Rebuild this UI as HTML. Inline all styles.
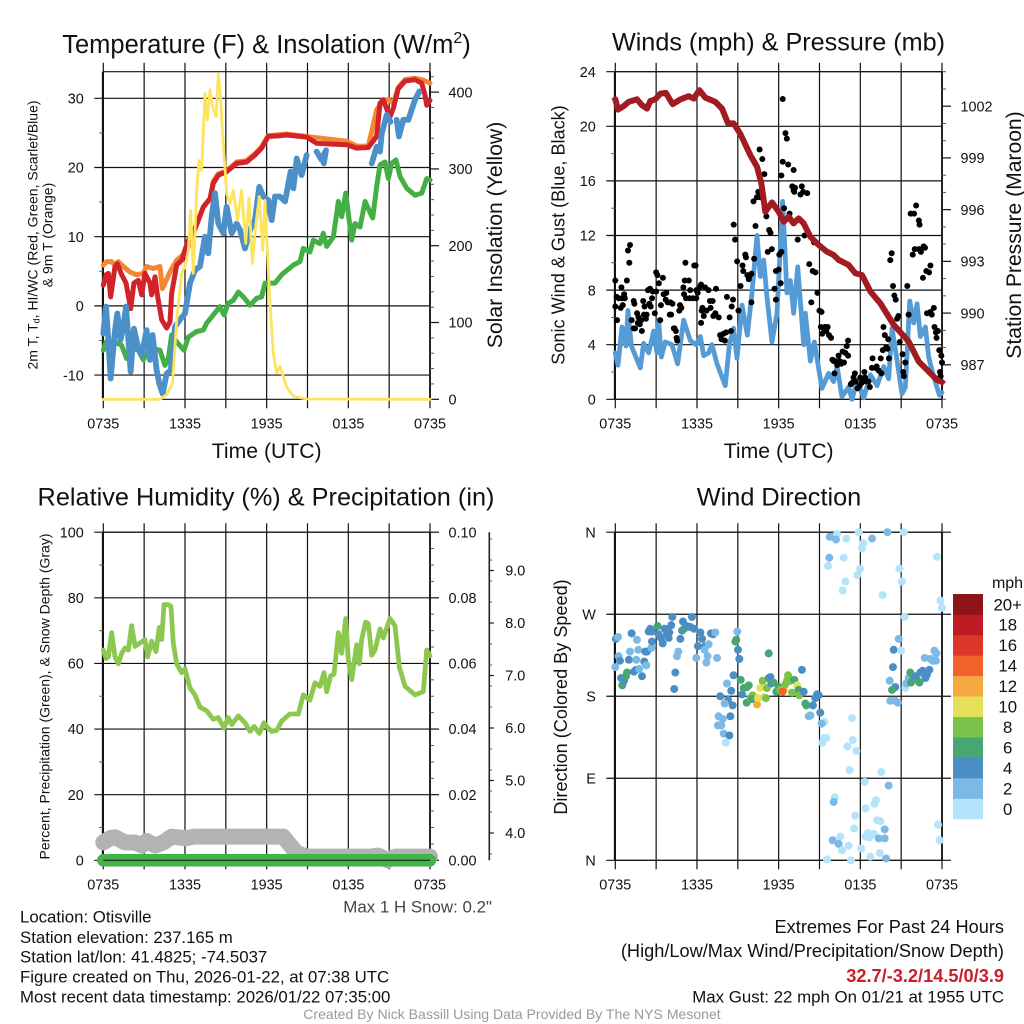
<!DOCTYPE html>
<html lang="en">
<head>
<meta charset="utf-8">
<title>Otisville Station Meteogram</title>
<style>
html,body{margin:0;padding:0;background:#fff;}
svg{display:block;font-family:"Liberation Sans",Arial,sans-serif;fill:#111;}
text{white-space:pre;}
</style>
</head>
<body>
<svg id="chart" xmlns="http://www.w3.org/2000/svg" width="1024" height="1024" viewBox="0 0 1024 1024">
  <rect x="0" y="0" width="1024" height="1024" fill="#fff"/>

  <text x="266.5" y="53" font-size="25.5" text-anchor="middle">Temperature (F) &amp; Insolation (W/m<tspan font-size="16" dy="-10">2</tspan><tspan dy="10">)</tspan></text>
  <text x="778.5" y="50.5" font-size="25.2" text-anchor="middle">Winds (mph) &amp; Pressure (mb)</text>
  <text x="266" y="505.5" font-size="25.3" text-anchor="middle">Relative Humidity (%) &amp; Precipitation (in)</text>
  <text x="779" y="505.5" font-size="25.3" text-anchor="middle">Wind Direction</text>

  <text x="266.7" y="458" font-size="21.2" text-anchor="middle">Time (UTC)</text>
  <text x="778.7" y="458" font-size="21.2" text-anchor="middle">Time (UTC)</text>

  <text transform="translate(37.7,235) rotate(-90)" font-size="14" text-anchor="middle">2m T, T<tspan font-size="9" dy="2">d</tspan><tspan dy="-2">, HI/WC (Red, Green, Scarlet/Blue)</tspan></text>
  <text transform="translate(52.7,235) rotate(-90)" font-size="14" text-anchor="middle">&amp; 9m T (Orange)</text>
  <text transform="translate(502,235) rotate(-90)" font-size="21.2" text-anchor="middle">Solar Insolation (Yellow)</text>
  <text transform="translate(564.5,235) rotate(-90)" font-size="18.1" text-anchor="middle">Sonic Wind &amp; Gust (Blue, Black)</text>
  <text transform="translate(1021,235) rotate(-90)" font-size="21.1" text-anchor="middle">Station Pressure (Maroon)</text>
  <text transform="translate(49.3,696.5) rotate(-90)" font-size="14" text-anchor="middle">Percent, Precipitation (Green), &amp; Snow Depth (Gray)</text>
  <text transform="translate(567,697) rotate(-90)" font-size="18.1" text-anchor="middle">Direction (Colored By Speed)</text>

  <text x="492" y="912.5" font-size="16.9" fill="#444" text-anchor="end">Max 1 H Snow: 0.2"</text>
  <g font-size="16.8">
    <text x="20" y="922.7">Location: Otisville</text>
    <text x="20" y="943">Station elevation: 237.165 m</text>
    <text x="20" y="962.7">Station lat/lon: 41.4825; -74.5037</text>
    <text x="20" y="982.3">Figure created on Thu, 2026-01-22, at 07:38 UTC</text>
    <text x="20" y="1002.3">Most recent data timestamp: 2026/01/22 07:35:00</text>
  </g>
  <g text-anchor="end">
    <text x="1004" y="933" font-size="18.2">Extremes For Past 24 Hours</text>
    <text x="1004" y="957" font-size="18.2">(High/Low/Max Wind/Precipitation/Snow Depth)</text>
    <text x="1004" y="982" font-size="18.2" font-weight="bold" fill="#c8202a">32.7/-3.2/14.5/0/3.9</text>
    <text x="1004" y="1002.3" font-size="16.85">Max Gust: 22 mph On 01/21 at 1955 UTC</text>
  </g>
  <text x="512" y="1019" font-size="14.05" fill="#999" text-anchor="middle">Created By Nick Bassill Using Data Provided By The NYS Mesonet</text>
</svg>

<script>
// ---------- shared axis data ----------
const timeTickHours = [0, 3, 6, 9, 12, 15, 18, 21, 24];
const timeTickLabels = {0: '0735', 6: '1335', 12: '1935', 18: '0135', 24: '0735'};

// ---------- temperature panel ----------
const tempTicks = [-10, 0, 10, 20, 30];
const tempMinorTicks = [-5, 5, 15, 25];
const insolationTicks = [0, 100, 200, 300, 400];
const insolationMinorTicks = [20, 40, 60, 80, 120, 140, 160, 180, 220, 240, 260, 280, 320, 340, 360, 380, 420];

const orangeHours = [0, .24, .61, .86, 1.1, 1.47, 1.96, 2.45, 2.94, 3.18, 3.67, 4.16, 4.34, 4.53, 4.9, 5.39, 6, 6.25, 6.61, 6.98, 7.35, 7.84, 8.08, 8.45, 9.06, 9.8, 10.53, 11.14, 11.63, 12.12, 13.47, 15.67, 17.88, 18.61, 19.47, 20.08, 20.57, 20.94, 21.31, 21.67, 22.17, 22.9, 23.39, 23.76, 24];
const orangeValues = [5.9, 6.4, 6.4, 5.9, 6.4, 5.7, 4.9, 4.5, 4.7, 5.7, 5.4, 5.7, 2.5, 3.3, 4.9, 6.6, 7.6, 8.6, 10.5, 12.4, 14.3, 15.5, 18, 19.1, 19.5, 20.8, 21, 22, 23, 24.6, 24.85, 24.3, 23.8, 23.1, 23.1, 28.3, 29.8, 29.8, 29.3, 31.6, 32.7, 32.9, 32.7, 32.4, 32.2];

const redHours = [0, .2, .37, .54, .86, 1.03, 1.35, 1.67, 2.01, 2.25, 2.57, 2.82, 3.06, 3.43, 3.55, 3.8, 3.97, 4.29, 4.65, 4.9, 5.02, 5.39, 5.76, 6, 6.25, 6.61, 6.98, 7.35, 7.84, 8.08, 8.45, 9.06, 9.8, 10.53, 11.14, 11.63, 12.12, 12.98, 13.47, 14.45, 14.94, 15.67, 16.65, 17.88, 18.61, 19.47, 20.08, 20.33, 20.57, 20.94, 21.06, 21.31, 21.67, 22.17, 22.9, 23.39, 23.63, 23.76, 24];
const redValues = [3, 4.5, 4.7, 1.3, 5.7, 6.1, 4.5, 3.3, -.4, 3.3, 3.7, 1.6, 4.7, 3.3, 1.6, 4.2, 1.6, -2, -3.2, -2.3, 1.8, 5.9, 6.6, 8.1, 9.5, 10.5, 12.4, 14.3, 15.5, 17.7, 18.9, 19.4, 20.6, 20.8, 21.8, 22.8, 24.5, 24.6, 24.7, 24.5, 24.4, 23.5, 23.4, 23.3, 22.8, 22.9, 24.5, 29.3, 29.8, 27.8, 27.3, 28.6, 31.4, 32.5, 32.7, 32.2, 30.5, 29, 29.7];

const greenHours = [0, .2, .49, .86, 1.35, 1.71, 2.2, 2.57, 2.94, 3.18, 3.55, 4.16, 4.53, 4.78, 5.02, 5.39, 5.93, 6.25, 6.86, 7.35, 7.59, 8.08, 8.57, 8.87, 9.18, 9.55, 9.92, 10.29, 10.78, 11.27, 11.63, 11.88, 12.61, 13.1, 13.96, 14.45, 14.69, 15.18, 15.43, 15.92, 16.16, 16.41, 16.9, 17.27, 17.51, 17.81, 18.25, 18.49, 18.86, 19.23, 19.79, 20.08, 20.33, 20.7, 20.94, 21.19, 21.5, 21.8, 22.29, 22.9, 23.39, 23.76, 24];
const greenValues = [-6.4, -5.2, -6.1, -5.2, -5.7, -7.6, -6.1, -6.4, -7.8, -6.9, -6.1, -6.4, -8.6, -7.6, -4.2, -5.2, -6.4, -4.5, -3.7, -3.5, -2.5, -1.3, -.1, -1.3, .4, .8, 2, 1.3, .1, 1.1, 1.3, 3.3, 3.3, 4.5, 5.9, 6.4, 8.3, 7.8, 9.5, 9, 10.5, 8.6, 10, 15.1, 12.9, 16.3, 9.5, 11.9, 11.4, 15.1, 12.7, 17.2, 20.4, 20.8, 18.4, 20.6, 21.1, 18.7, 17, 16, 16.3, 18.4, 18.2];

// null marks a gap in the dew-point / wind-chill record
const blueHours = [0, .2, .37, .54, .86, 1.03, 1.27, 1.47, 1.67, 2.01, 2.25, 2.57, 2.82, 3.18, 3.43, 3.62, 3.92, 4.11, 4.36, 4.65, 4.95, 5.27, 5.63, 6, 6.37, 6.74, 7.1, 7.47, 7.71, 7.96, 8.2, 8.45, 8.82, 9.06, 9.43, 9.8, 10.04, 10.41, 10.78, 11.14, 11.46, 11.76, 12.12, 12.37, 12.61, 12.98, 13.35, 13.76, 13.96, 14.21, 14.57, 14.94, 15.3, 15.67, 16.04, 16.36, 16.2, 18, 19.72, 20.08, 20.33, 20.45, 20.82, 21.1, 21.3, 21.55, 21.72, 22.04, 22.41, 22.9, 23.22];
const blueValues = [-4, -.1, -4.9, -10.5, -3.5, -1.1, -4.9, -3, -.1, -9.5, -3.3, -6.1, -7.1, -3.5, -7.8, -4.2, -9.3, -11.2, -12.7, -9.8, -9.3, -3, -2, -1.1, 3.3, 5.2, 5.7, 10, 7.6, 12.9, 16.3, 11.9, 10.5, 14.3, 10.5, 11.9, 11, 8.3, 11, 12.4, 17.2, 15.8, 15.3, 12.4, 15.8, 15.8, 15.1, 19.4, 17, 21.3, 18.9, 21.8, null, 22.3, 21.1, 22.5, 20.6, null, 20.6, 23, 22.3, 24.9, 27.6, 26.6, null, 26.9, 24.5, 26.9, 26.9, 29.8, 31];

const insolationHours = [0, 4.16, 4.65, 5.09, 5.39, 5.76, 6, 6.25, 6.42, 6.61, 6.86, 7.03, 7.22, 7.47, 7.64, 7.84, 8.03, 8.28, 8.45, 8.57, 8.77, 9.06, 9.31, 9.55, 9.85, 10.16, 10.46, 10.7, 10.95, 11.19, 11.46, 11.71, 11.88, 12.05, 12.25, 12.49, 12.74, 12.98, 13.47, 13.96, 14.94, 24];
const insolationValues = [0, 0, 6, 21, 103, 164, 173, 194, 246, 164, 272, 311, 298, 398, 364, 403, 381, 368, 424, 403, 346, 268, 255, 272, 233, 272, 203, 262, 177, 225, 264, 194, 259, 194, 125, 60, 34, 43, 16, 4, .4, 0];

// ---------- winds panel ----------
const windTicks = [0, 4, 8, 12, 16, 20, 24];
const windMinorTicks = [2, 6, 10, 14, 18, 22];
const pressureTicks = [987, 990, 993, 996, 999, 1002];
const pressureMinorTicks = [985, 986, 988, 989, 991, 992, 994, 995, 997, 998, 1000, 1001, 1003, 1004];

const sonicHours = [0, .2, .49, .78, .93, 1.18, 1.84, 2.08, 2.45, 2.82, 3.06, 3.18, 3.38, 3.67, 4.16, 4.58, 5.02, 5.51, 5.93, 6.25, 6.49, 6.86, 7.1, 7.47, 8.08, 8.38, 8.69, 8.94, 9.31, 9.7, 10.04, 10.41, 10.65, 10.9, 11.14, 11.51, 11.88, 12.29, 12.61, 12.86, 13.1, 13.4, 13.84, 13.96, 14.33, 14.62, 15.18, 15.67, 16.04, 16.29, 16.65, 17.14, 17.39, 17.76, 18.25, 18.74, 19.23, 19.72, 20.08, 20.33, 20.57, 21.06, 21.31, 21.63, 21.92, 22.17, 22.41, 22.78, 23.02, 23.32, 23.81, 24];
const sonicValues = [3.4, 2.5, 5.3, 3.9, 6.5, 3.9, 2.3, 4.1, 3.4, 5, 3.4, 5.8, 3.1, 4.2, 4, 2.6, 5.8, 4.3, 4, 4.6, 3.2, 3.4, 4, 2.6, 1, 4, 5.2, 3, 6.9, 4.7, 7.8, 12, 9, 10.2, 7.5, 4.2, 6.3, 14.5, 7.8, 8.7, 6.3, 9.7, 4, 6.3, 2.8, 4.2, .8, 1.9, 1.3, 2.4, .2, .9, 0, 1.4, .1, 1.8, 1, 2.4, 1.5, 5.2, 3.7, .4, .9, 7.2, 5.6, 7, 4.6, 5.3, 3.1, 1.9, .3, .5];

const gustHours = [0, 0, .1, .13, .25, .4, .45, .5, .55, .65, .7, .85, .93, 1.03, 1.08, 1.2, 1.35, 1.35, 1.4, 1.45, 1.6, 1.65, 1.7, 1.8, 1.9, 1.95, 2.05, 2.1, 2.15, 2.25, 2.3, 2.4, 2.5, 2.55, 2.6, 2.7, 2.75, 2.9, 3, 3, 3.1, 3.2, 3.3, 3.35, 3.5, 3.55, 3.7, 3.75, 3.85, 4, 4.05, 4.1, 4.2, 4.3, 4.35, 4.45, 4.5, 4.55, 4.7, 4.75, 4.85, 5, 5.05, 5.1, 5.15, 5.2, 5.4, 5.45, 5.5, 5.7, 5.8, 5.9, 5.95, 5.95, 6.05, 6.2, 6.3, 6.3, 6.35, 6.4, 6.5, 6.6, 6.7, 6.85, 6.95, 7, 7.15, 7.2, 7.35, 7.4, 7.6, 7.7, 7.8, 7.95, 8.05, 8.15, 8.2, 8.4, 8.5, 8.55, 8.65, 8.7, 8.8, 8.95, 9.05, 9.2, 9.35, 9.4, 9.55, 9.6, 9.7, 9.8, 9.85, 10, 10, 10.15, 10.2, 10.3, 10.4, 10.5, 10.6, 10.65, 10.8, 10.95, 11.1, 11.2, 11.3, 11.4, 11.5, 11.7, 11.8, 11.8, 12, 12.05, 12.15, 12.2, 12.4, 12.3, 12.2, 12.3, 12.5, 12.6, 12.7, 12.8, 13, 13.1, 13.1, 13.15, 13.2, 13.4, 13.6, 13.7, 13.8, 13.9, 14.1, 14.25, 14.4, 14.5, 14.6, 14.7, 14.85, 15, 15.1, 15.15, 15.2, 15.3, 15.4, 15.5, 15.6, 15.7, 15.85, 15.95, 16.05, 16.1, 16.2, 16.3, 16.4, 16.5, 16.6, 16.7, 16.8, 16.9, 17, 17.1, 17.1, 17.3, 17.4, 17.5, 17.6, 17.65, 17.8, 17.95, 18, 18.1, 18.2, 18.3, 18.35, 18.45, 18.6, 18.7, 18.85, 18.9, 19.1, 19.2, 19.35, 19.5, 19.55, 19.65, 19.7, 19.8, 19.9, 20, 20.05, 20.1, 20.2, 20.3, 20.4, 20.5, 20.6, 20.7, 20.8, 20.9, 21.1, 21.15, 21.2, 21.3, 21.45, 21.55, 21.7, 21.85, 21.95, 22.1, 22, 22.3, 22.3, 22.35, 22.45, 22.6, 22.65, 22.75, 22.85, 22.9, 23.05, 23.15, 23.15, 23.25, 23.4, 23.45, 23.55, 23.6, 23.7, 23.8, 24, 23.95, 23.85, 23.9, 23.75];
const gustValues = [8.7, 6.8, 7.5, 5.8, 7.4, 6.7, 8.2, 7.4, 6.9, 7.7, 7.4, 8.7, 10.9, 10, 11.3, 5.8, 5.2, 7.2, 7, 5.2, 6.3, 5.6, 6, 5.5, 5.8, 5, 7.2, 6.2, 6.8, 5.9, 6.2, 8, 7, 8.1, 6.8, 7.4, 7.9, 6.3, 7.9, 9.3, 9.1, 8.5, 5.8, 6.9, 8.9, 7.7, 7.3, 7.8, 7.1, 6.2, 7.1, 6.2, 7, 5.2, 5.2, 5, 4.5, 4.3, 6.5, 6.9, 6.7, 8.2, 7.7, 8.7, 10, 7.4, 8.7, 7.4, 8, 7.4, 9.8, 9.8, 7.4, 8, 7.8, 8.2, 8.4, 5.6, 6.5, 6.7, 6.1, 8.2, 6.5, 8, 7.2, 6.7, 7.2, 6.1, 6.3, 8.1, 6, 4.7, 4.4, 4.8, 4.3, 4.9, 7.5, 6, 5, 6.8, 7.3, 12.8, 11.7, 10.1, 6.5, 8.3, 9.8, 9.4, 10.6, 10.4, 9.1, 8.8, 9, 7.1, 9.2, 14.5, 10.3, 12.7, 14.8, 15.2, 18.3, 14.8, 17.6, 16.5, 13.4, 10.8, 12.4, 12.2, 11, 8.1, 7.3, 9.4, 9.5, 10.6, 8.5, 10.8, 14, 17.4, 16.4, 22, 19.5, 19.1, 17.2, 13.6, 15.6, 15.3, 16.8, 15.2, 15.5, 11.7, 15, 15.6, 15.2, 12, 15.1, 9.9, 7.1, 9.4, 11.5, 9.3, 7.8, 6.5, 5.3, 6.4, 4.8, 5.2, 5.3, 5, 5.3, 4.7, 4.5, 2.9, 2.8, 1.9, 2.8, 2.5, 3.2, 2.8, 2.6, 3.5, 2.7, 3.4, 3.9, 4.3, 3.2, 1.1, 1.2, 1.6, 1.9, 1.3, .8, 1, 1.6, 1.2, 1.5, 2, 1.6, 1.3, 1.3, .9, 2.3, 3, 2.3, 2.4, 2.1, 3, 1.9, 3.6, 5.3, 4.7, 3.8, 3.7, 4.4, 3, 10.2, 10.7, 8.3, 7.6, 7.3, 5.9, 6.1, 4.2, 3.3, 2, 1.7, 2.7, 8.3, 6.2, 13.6, 10.6, 13.6, 14.2, 11, 11, 13.1, 12.8, 10.8, 8.9, 11.2, 11.1, 9.4, 6.3, 9.3, 9.8, 6.4, 6.2, 6.7, 5.3, 4.9, 4.5, 5, 3.6, 2.7, 3.2, 2, 1.7, 1.5];

const pressureHours = [0, .2, .61, .98, 1.59, 1.96, 2.33, 2.57, 2.94, 3.31, 3.72, 4.21, 4.78, 5.39, 5.76, 6.17, 6.61, 7.35, 7.84, 8.28, 8.69, 9.18, 9.92, 10.41, 10.73, 11.02, 11.51, 12, 12.37, 12.74, 13.1, 13.47, 13.84, 14.33, 14.94, 15.55, 16.04, 16.41, 17.14, 17.63, 18.12, 18.74, 19.47, 20.45, 21.55, 22.29, 23.02, 23.63, 24];
const pressureValues = [1002.4, 1001.8, 1002, 1002.25, 1002.4, 1002.06, 1001.86, 1002.3, 1002.4, 1002.73, 1002.77, 1002.12, 1002.39, 1002.58, 1002.44, 1002.93, 1002.5, 1002.25, 1001.86, 1001, 1001, 1000.4, 999.16, 998.49, 997.52, 995.88, 996.42, 995.88, 995.3, 995.59, 995.2, 995.49, 995.2, 994.43, 993.95, 993.56, 993.37, 993.08, 992.79, 992.31, 992.21, 991.25, 990.57, 989.32, 988.35, 987.19, 986.61, 986.13, 986];

// ---------- humidity panel ----------
const humidityTicks = [0, 20, 40, 60, 80, 100];
const humidityMinorTicks = [10, 30, 50, 70, 90];
const precipTicks = [0, .02, .04, .06, .08, .1];
const precipTickLabels = ['0.00', '0.02', '0.04', '0.06', '0.08', '0.10'];
const precipMinorTicks = [.005, .01, .015, .025, .03, .035, .045, .05, .055, .065, .07, .075, .085, .09, .095];
const snowTicks = [4, 5, 6, 7, 8, 9];
const snowTickLabels = ['4.0', '5.0', '6.0', '7.0', '8.0', '9.0'];
const snowMinorTicks = [3.6, 4.4, 4.8, 5.2, 5.6, 6.4, 6.8, 7.2, 7.6, 8.4, 8.8, 9.2, 9.6];

const humidityHours = [0, .2, .37, .61, .86, 1.1, 1.35, 1.59, 1.84, 2.08, 2.33, 2.69, 3.06, 3.26, 3.55, 3.87, 4.11, 4.29, 4.46, 4.78, 4.97, 5.14, 5.39, 5.76, 6, 6.37, 6.74, 7.1, 7.59, 8.08, 8.45, 8.87, 9.18, 9.43, 9.92, 10.41, 10.78, 11.09, 11.46, 11.8, 12.12, 12.37, 12.74, 13.1, 13.71, 14.33, 14.69, 15.18, 15.55, 15.92, 16.21, 16.41, 16.7, 16.95, 17.27, 17.51, 17.81, 18, 18.25, 18.61, 18.81, 18.98, 19.27, 19.47, 19.72, 19.96, 20.33, 20.57, 21.06, 21.43, 21.75, 22.17, 22.9, 23.51, 23.76, 24];
const humidityValues = [64.1, 61.5, 62, 69.4, 62, 59.9, 63.1, 64.7, 64.1, 71.5, 65.2, 66.2, 67.3, 62, 66.8, 63.6, 71, 67.3, 77.9, 77.9, 77.4, 66.2, 59.9, 57.2, 58.3, 52.5, 50.4, 46.7, 45.6, 43, 43.5, 40.3, 43.5, 41.4, 44, 41.9, 39.3, 40.8, 38.7, 41.9, 40.3, 39.3, 39.6, 42.4, 44.6, 44.6, 50.4, 48.8, 54.1, 53, 57.2, 51.4, 56.2, 56.7, 69.4, 63.1, 73.7, 61, 55.1, 65.7, 59.9, 67.3, 72.6, 72.1, 62.5, 64.1, 70.5, 67.8, 73.7, 71.5, 58.8, 53, 50.4, 51.4, 64.1, 62.3];

const snowHours = [0, .49, .86, 1.59, 2.33, 2.82, 3.18, 3.8, 4.41, 5.02, 6.1, 6.61, 13.22, 14.2, 14.94, 19.6, 20.2, 20.9, 21.43, 24];
const snowValues = [3.82, 3.9, 3.92, 3.82, 3.82, 3.76, 3.85, 3.76, 3.82, 3.93, 3.9, 3.93, 3.93, 3.62, 3.55, 3.55, 3.57, 3.48, 3.55, 3.55];

const precipHours = [0, 6, 12, 18, 24];
const precipValues = [0, 0, 0, 0, 0];

// ---------- wind direction panel ----------
const directionTicks = [0, 90, 180, 270, 360];
const directionTickLabels = ['N', 'E', 'S', 'W', 'N'];
const speedBinLabels = ['0', '2', '4', '6', '8', '10', '12', '14', '16', '18', '20+'];
const speedBinColors = ['#b3e4fb', '#7db9e6', '#4a8ec6', '#48a673', '#7bc24a', '#e6e058', '#f6a941', '#f1632b', '#de3628', '#bd1a24', '#8e1418'];

const directionHours = [
  0, .05, .2, .24, .34, .42, .51, .64, .86, .78,
  1.2, 1, 1.08, 1.37, 1.52, 1.54, 1.59, 1.69, 1.76, 1.96,
  2.13, 2.2, 2.33, 2.28, 2.65, 2.69, 2.45, 2.57, 2.69, 3.11,
  3.18, 3.36, 3.48, 3.62, 3.8, 3.97, 3.92, 4.11, 4.19, 4.41,
  4.33, 4.53, 4.63, 4.78, 4.9, 4.97, 5.05, 5.27, 5.51, 5.63,
  5.8, 5.95, 6.07, 6.25, 6.37, 6.61, 6.56, 6.69, 6.78, 6.86,
  7.03, 7.18, 7.35, 7.47, 7.71, 7.59, 7.89, 7.54, 7.79, 7.96,
  8.2, 8.28, 8.03, 8.38, 8.13, 8.45, 8.52, 8.62, 8.69, 8.82,
  8.89, 8.96, 9.01, 9.11, 9.21, 9.31, 9.43, 9.67, 9.8, 9.65,
  9.92, 10.09, 10.04, 10.41, 10.48, 10.65, 10.83, 10.9, 11.07, 11.14,
  11.27, 11.27, 11.39, 11.46, 11.63, 11.83, 12, 12.12, 12.37, 12.29,
  12.49, 12.69, 12.61, 12.98, 12.86, 13.15, 13.35, 13.47, 13.52, 13.71,
  13.84, 13.96, 14.03, 14.21, 14.33, 14.52, 14.69, 14.82, 14.94, 15.06,
  15.36, 15.16, 15.31, 15.5, 15.21, 15.55, 15.75, 16, 16.29, 16.21,
  16.97, 15.72, 15.63, 16.78, 16.9, 16.7, 17.88, 18.22, 18.12, 18.86,
  19.99, 21.19, 17.98, 17.78, 19.64, 20.87, 21.06, 21.26, 23.63, 23.88,
  24, 17.39, 17.44, 17.05, 17.71, 17.22, 19.54, 18.32, 20.08, 16.12,
  16.04, 19.15, 19.05, 18.39, 17.63, 19.23, 19.47, 17.54, 19.79, 18.37,
  18.56, 18.66, 18.98, 19.35, 19.79, 15.97, 16.53, 16.41, 17.14, 16.65,
  18.07, 18.74, 19.42, 19.89, 17.32, 23.71, 23.83, 20.82, 20.45, 20.99,
  20.4, 20.16, 20.57, 20.33, 20.2, 20.57, 20.75, 21.31, 21.38, 21.55,
  21.67, 21.72, 21.92, 22.17, 22.34, 22.04, 22.41, 22.58, 22.78, 22.9,
  23.07, 22.73, 23.15, 23.32, 23.44, 23.56, 23.59
];
const directionDegrees = [
  212, 243, 245, 224, 219, 200, 192, 197, 206, 202,
  249, 220, 229, 207, 209, 220, 242, 231, 210, 202,
  218, 229, 229, 214, 233, 240, 251, 254, 251, 257,
  248, 244, 238, 254, 248, 250, 244, 258, 267, 206,
  188, 224, 229, 243, 252, 262, 254, 257, 256, 267,
  254, 222, 235, 250, 243, 235, 231, 217, 224, 237,
  249, 248, 250, 222, 180, 158, 155, 148, 148, 139,
  194, 176, 172, 137, 129, 158, 186, 170, 203, 240,
  242, 251, 231, 221, 198, 182, 189, 190, 192, 173,
  178, 181, 177, 171, 178, 189, 197, 179, 178, 189,
  200, 227, 201, 194, 195, 185, 190, 187, 187, 185,
  193, 203, 197, 184, 197, 198, 192, 187, 181, 209,
  185, 172, 170, 158, 159, 170, 178, 182, 181, 162,
  152, 150, 134, 134, 129, 1, 355, 355, 358, 352,
  353, 332, 323, 332, 306, 296, 360, 348, 342, 353,
  360, 360, 320, 313, 291, 320, 306, 267, 333, 285,
  277, 156, 132, 125, 120, 99, 97, 86, 82, 69,
  64, 66, 62, 57, 49, 44, 43, 35, 34, 26,
  30, 25, 29, 24, 24, 22, 26, 18, 16, 11,
  13, 4, 8, 2, 0, 39, 22, 243, 231, 230,
  212, 197, 190, 187, 175, 175, 173, 189, 194, 200,
  206, 195, 200, 198, 195, 202, 206, 208, 200, 204,
  209, 222, 221, 219, 230, 219, 227
];
const directionSpeeds = [
  2, 4, 2, 2, 4, 4, 6, 4, 6, 6,
  4, 4, 2, 4, 4, 2, 2, 2, 2, 4,
  4, 4, 4, 2, 2, 4, 4, 4, 4, 6,
  4, 4, 4, 4, 4, 4, 4, 4, 4, 4,
  4, 2, 2, 4, 4, 4, 6, 4, 4, 4,
  4, 2, 4, 4, 4, 4, 2, 2, 2, 2,
  4, 4, 2, 2, 4, 2, 2, 2, 2, 2,
  2, 4, 2, 4, 1, 4, 4, 4, 4, 6,
  6, 2, 4, 4, 6, 4, 6, 6, 6, 6,
  8, 8, 6, 12, 10, 10, 8, 10, 8, 8,
  6, 6, 4, 4, 6, 6, 6, 8, 12, 14,
  8, 8, 8, 8, 8, 6, 10, 6, 8, 4,
  4, 6, 6, 2, 2, 4, 4, 4, 4, 4,
  1, 2, 1, 1, 1, 0, 2, 2, 1, 2,
  0, 2, 0, 0, 0, 0, 0, 0, 0, 2,
  2, 0, 0, 0, 0, 0, 1, 0, 0, 0,
  0, 0, 0, 0, 0, 0, 0, 0, 2, 0,
  2, 0, 0, 0, 0, 0, 0, 0, 2, 0,
  0, 0, 0, 2, 2, 2, 0, 2, 0, 0,
  0, 0, 0, 2, 0, 0, 0, 2, 4, 1,
  4, 2, 4, 6, 2, 2, 2, 1, 2, 2,
  6, 6, 6, 6, 6, 4, 4, 4, 4, 4,
  4, 2, 2, 2, 2, 2, 2
];

// ---------- rendering ----------
const SVG_NS = 'http://www.w3.org/2000/svg';
const chart = document.getElementById('chart');

function make(tag, parent, props) {
  const el = document.createElementNS(SVG_NS, tag);
  for (const key in props) el.setAttribute(key, props[key]);
  parent.appendChild(el);
  return el;
}

function linear(d0, d1, r0, r1) {
  return function (v) { return r0 + (v - d0) * (r1 - r0) / (d1 - d0); };
}

function panelGroup(name) {
  const g = make('g', chart, {});
  
  
  return g;
}

function tickLine(parent, name, x1, y1, x2, y2, width, color) {
  const l = make('line', parent, {x1: x1, y1: y1, x2: x2, y2: y2, stroke: color || '#111', 'stroke-width': width || 1.2});
  
  
  return l;
}

function tickText(parent, name, x, y, str, anchor, size) {
  const fontSize = size || 14.4;
  const t = make('text', parent, {x: x, y: y + fontSize * .36, 'font-size': fontSize, 'text-anchor': anchor});
  t.textContent = str;
  
  
  return t;
}

function drawFrame(g, box, xs) {
  timeTickHours.forEach(function (h) {
    tickLine(g, 'time-gridline', xs(h), box.top - 9, xs(h), box.bottom + 9);
    if (timeTickLabels[h]) {
      tickText(g, 'time-tick-label', xs(h), box.bottom + 24, timeTickLabels[h], 'middle');
    }
  });
  tickLine(g, 'left-border', box.left - .4, box.top, box.left - .4, box.bottom, 2.1);
  tickLine(g, 'right-border', box.right, box.top, box.right, box.bottom, 1.8);
  tickLine(g, 'top-border', box.left, box.top, box.right, box.top);
  tickLine(g, 'bottom-border', box.left, box.bottom, box.right, box.bottom);
}

function leftAxis(g, box, scale, ticks, labels, minor, extendRight) {
  ticks.forEach(function (v, i) {
    const y = scale(v);
    tickLine(g, 'left-axis-gridline', box.left - 9, y, box.right + (extendRight ? 9 : 0), y);
    tickText(g, 'left-axis-tick-label', box.left - 19.5, y, labels ? labels[i] : String(v), 'end');
  });
  minor.forEach(function (v) {
    tickLine(g, 'left-axis-minor-tick', box.left - 4, scale(v), box.left, scale(v), 1, '#555');
  });
}

function rightAxis(g, box, scale, ticks, labels, minor, drawMajor) {
  ticks.forEach(function (v, i) {
    const y = scale(v);
    if (drawMajor) tickLine(g, 'right-axis-major-tick', box.right, y, box.right + 9, y);
    tickText(g, 'right-axis-tick-label', box.right + 18.5, y, labels ? labels[i] : String(v), 'start');
  });
  minor.forEach(function (v) {
    if (scale(v) >= box.top - .5 && scale(v) <= box.bottom + .5) {
      tickLine(g, 'right-axis-minor-tick', box.right, scale(v), box.right + 4, scale(v), 1, '#555');
    }
  });
}

function drawLine(g, name, hours, values, xs, ys, color, width) {
  let d = '';
  let pen = false;
  values.forEach(function (v, i) {
    if (v === null) { pen = false; return; }
    d += (pen ? 'L' : 'M') + xs(hours[i]).toFixed(2) + ' ' + ys(v).toFixed(2);
    pen = true;
  });
  const p = make('path', g, {d: d, fill: 'none', stroke: color, 'stroke-width': width, 'stroke-linejoin': 'round', 'stroke-linecap': 'round'});
  
  
  return p;
}

const upperBox = {left: 103.3, right: 430, top: 71.7, bottom: 399.3};
const lowerBox = {left: 103.3, right: 430, top: 532.2, bottom: 860.3};
const offset = 512;

// --- temperature panel ---
(function () {
  const g = panelGroup('temperature-panel');
  const box = upperBox;
  const xs = linear(0, 24, box.left, box.right);
  const yT = linear(-13.5, 33.85, box.bottom, box.top);
  const yI = linear(0, 426.6, box.bottom, box.top);
  drawFrame(g, box, xs);
  leftAxis(g, box, yT, tempTicks, null, tempMinorTicks, false);
  rightAxis(g, box, yI, insolationTicks, null, insolationMinorTicks, true);
  drawLine(g, 'orange-9m-temperature-line', orangeHours, orangeValues, xs, yT, '#f58634', 5);
  drawLine(g, 'green-dewpoint-line', greenHours, greenValues, xs, yT, '#43b045', 5);
  drawLine(g, 'red-2m-temperature-line', redHours, redValues, xs, yT, '#d2232a', 5);
  drawLine(g, 'blue-windchill-line', blueHours, blueValues, xs, yT, '#4b90c8', 5.8);
  drawLine(g, 'yellow-insolation-line', insolationHours, insolationValues, xs, yI, '#fde45c', 2.8);
})();

// --- winds panel ---
(function () {
  const g = panelGroup('winds-panel');
  const box = {left: upperBox.left + offset, right: upperBox.right + offset, top: upperBox.top, bottom: upperBox.bottom};
  const xs = linear(0, 24, box.left, box.right);
  const yW = linear(0, 24, box.bottom, box.top);
  const yP = linear(985, 1004, box.bottom, box.top);
  drawFrame(g, box, xs);
  leftAxis(g, box, yW, windTicks, null, windMinorTicks, false);
  rightAxis(g, box, yP, pressureTicks, null, pressureMinorTicks, true);
  drawLine(g, 'sonic-wind-line', sonicHours, sonicValues, xs, yW, '#559bd6', 4.8);
  gustHours.forEach(function (h, i) {
    const c = make('circle', g, {cx: xs(h), cy: yW(gustValues[i]), r: 3, fill: '#000'});
    
    
  });
  drawLine(g, 'pressure-line', pressureHours, pressureValues, xs, yP, '#a01c20', 6);
})();

// --- humidity panel ---
(function () {
  const g = panelGroup('humidity-panel');
  const box = lowerBox;
  const xs = linear(0, 24, box.left, box.right);
  const yH = linear(0, 100, box.bottom, box.top);
  const yR = linear(0, .1, box.bottom, box.top);
  const yS = linear(3.48, 9.73, box.bottom, box.top);
  drawFrame(g, box, xs);
  leftAxis(g, box, yH, humidityTicks, null, humidityMinorTicks, false);
  rightAxis(g, box, yR, precipTicks, precipTickLabels, precipMinorTicks, true);
  drawLine(g, 'snow-depth-line', snowHours, snowValues, xs, yS, '#b3b3b3', 16);
  drawLine(g, 'precipitation-line', precipHours, precipValues, xs, yR, '#43b247', 12.5);
  drawLine(g, 'relative-humidity-line', humidityHours, humidityValues, xs, yH, '#8cc850', 4.8);
  tickLine(g, 'zero-baseline', box.left, box.bottom, box.right, box.bottom, 1);
  const axisX = 489.3;
  tickLine(g, 'snow-axis-line', axisX, box.top, axisX, box.bottom, 1.6, '#222');
  snowTicks.forEach(function (v, i) {
    tickLine(g, 'snow-axis-major-tick', axisX, yS(v), axisX + 4.5, yS(v));
    tickText(g, 'snow-axis-tick-label', axisX + 16, yS(v), snowTickLabels[i], 'start');
  });
  snowMinorTicks.forEach(function (v) {
    tickLine(g, 'snow-axis-minor-tick', axisX, yS(v), axisX + 2.8, yS(v), 1, '#555');
  });
})();

// --- wind direction panel ---
(function () {
  const g = panelGroup('wind-direction-panel');
  const box = {left: lowerBox.left + offset, right: lowerBox.right + offset, top: lowerBox.top, bottom: lowerBox.bottom};
  const xs = linear(0, 24, box.left, box.right);
  const yD = linear(0, 360, box.bottom, box.top);
  drawFrame(g, box, xs);
  leftAxis(g, box, yD, directionTicks, directionTickLabels, [], true);
  directionHours.forEach(function (h, i) {
    const bin = Math.min(speedBinColors.length - 1, Math.floor(directionSpeeds[i] / 2));
    const c = make('circle', g, {cx: xs(h), cy: yD(directionDegrees[i]), r: 4, fill: speedBinColors[bin]});
    
    
  });

  const legend = make('g', g, {});
  
  
  const barTop = 594, barBottom = 819, barLeft = 953, barWidth = 30;
  const n = speedBinColors.length;
  const binHeight = (barBottom - barTop) / n;
  for (let i = 0; i < n; i++) {
    const y = barTop + (n - 1 - i) * binHeight;
    const r = make('rect', legend, {x: barLeft, y: y, width: barWidth, height: binHeight + .3, fill: speedBinColors[i]});
    
    
    tickText(legend, 'colorbar-label', 1007.7, y + binHeight / 2, speedBinLabels[i], 'middle', 16.8);
  }
  tickText(legend, 'colorbar-unit-label', 1007.5, 582, 'mph', 'middle', 16);
})();
</script>
</body>
</html>
